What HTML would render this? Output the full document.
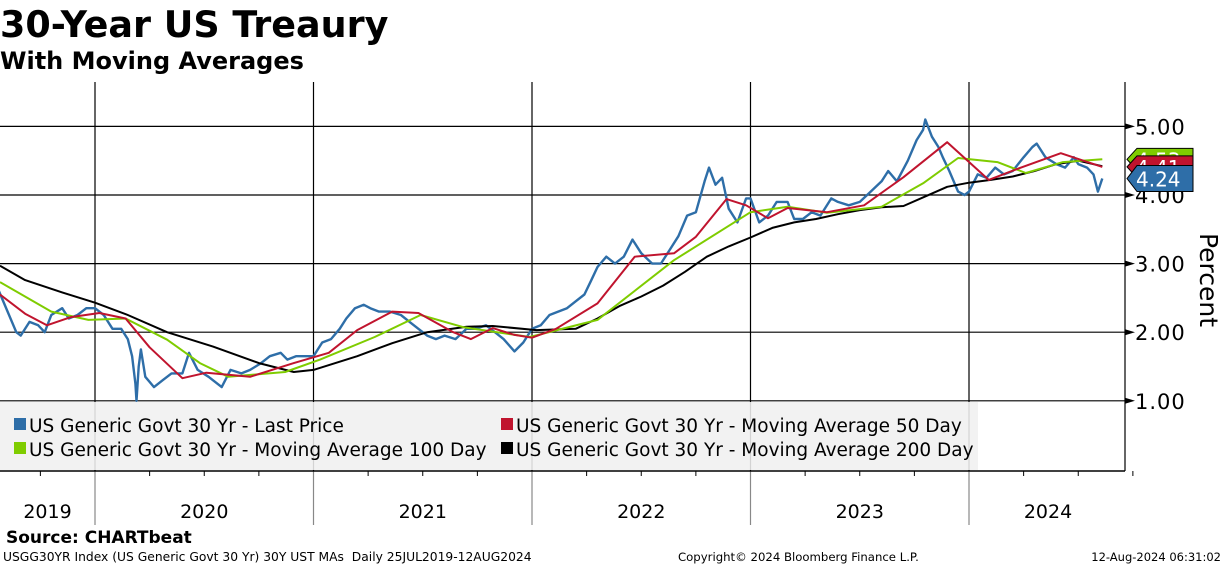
<!DOCTYPE html>
<html><head><meta charset="utf-8"><style>
body{margin:0;background:#fff;width:1224px;height:566px;overflow:hidden;font-family:"DejaVu Sans","Liberation Sans",sans-serif}
svg{position:absolute;left:0;top:0}
</style></head><body>
<svg id="c" width="1224" height="566">
<text x="0" y="37" font-size="36.5" font-weight="bold" font-family="DejaVu Sans, sans-serif">30-Year US Treaury</text>
<text x="0" y="69" font-size="24" font-weight="bold" font-family="DejaVu Sans, sans-serif">With Moving Averages</text>
<g id="grid"></g>
<g id="series"></g>
<g id="legend"></g>
<g id="axes"></g>
<text x="6" y="543" font-size="17" font-weight="bold">Source: CHARTbeat</text>
<text x="3" y="561" font-size="12.3" xml:space="preserve">USGG30YR Index (US Generic Govt 30 Yr) 30Y UST MAs  Daily 25JUL2019-12AUG2024</text>
<text x="678" y="561" font-size="11.7">Copyright© 2024 Bloomberg Finance L.P.</text>
<text x="1221" y="561" font-size="11.5" text-anchor="end">12-Aug-2024 06:31:02</text>
</svg>
<script>
const yTicks=[1,2,3,4,5];
const yearLabels=["2019","2020","2021","2022","2023","2024"];
const priceT=[2019.56,2019.60,2019.64,2019.66,2019.70,2019.74,2019.77,2019.80,2019.85,2019.88,2019.92,2019.96,2020.0,2020.04,2020.08,2020.12,2020.15,2020.17,2020.185,2020.19,2020.20,2020.21,2020.23,2020.27,2020.31,2020.35,2020.40,2020.43,2020.47,2020.52,2020.58,2020.62,2020.67,2020.71,2020.76,2020.80,2020.85,2020.88,2020.92,2020.96,2021.0,2021.04,2021.08,2021.12,2021.15,2021.19,2021.23,2021.26,2021.3,2021.35,2021.4,2021.44,2021.48,2021.52,2021.56,2021.60,2021.65,2021.70,2021.74,2021.79,2021.83,2021.87,2021.92,2021.96,2022.0,2022.04,2022.08,2022.12,2022.16,2022.2,2022.24,2022.27,2022.3,2022.34,2022.38,2022.42,2022.46,2022.5,2022.55,2022.59,2022.63,2022.67,2022.71,2022.75,2022.79,2022.81,2022.84,2022.87,2022.90,2022.94,2022.98,2023.0,2023.04,2023.08,2023.12,2023.17,2023.2,2023.24,2023.28,2023.32,2023.37,2023.4,2023.45,2023.5,2023.55,2023.6,2023.63,2023.67,2023.72,2023.76,2023.79,2023.8,2023.83,2023.86,2023.88,2023.91,2023.95,2023.98,2024.0,2024.04,2024.08,2024.12,2024.16,2024.2,2024.25,2024.29,2024.31,2024.35,2024.4,2024.44,2024.48,2024.5,2024.54,2024.57,2024.59,2024.61];
const priceV=[2.60,2.30,2.00,1.95,2.15,2.10,2.00,2.25,2.35,2.20,2.25,2.35,2.35,2.25,2.05,2.05,1.90,1.65,1.25,1.00,1.50,1.75,1.35,1.20,1.30,1.40,1.40,1.70,1.45,1.35,1.20,1.45,1.40,1.45,1.55,1.65,1.70,1.60,1.65,1.65,1.65,1.85,1.90,2.05,2.20,2.35,2.40,2.35,2.30,2.30,2.25,2.15,2.05,1.95,1.90,1.95,1.90,2.05,2.05,2.10,2.00,1.90,1.72,1.85,2.05,2.10,2.25,2.30,2.35,2.45,2.55,2.75,2.95,3.10,3.00,3.10,3.35,3.15,3.00,3.00,3.20,3.40,3.70,3.75,4.20,4.40,4.15,4.25,3.80,3.60,3.95,3.95,3.60,3.70,3.90,3.90,3.65,3.65,3.75,3.70,3.95,3.90,3.85,3.90,4.05,4.20,4.35,4.20,4.50,4.80,4.95,5.10,4.85,4.70,4.55,4.35,4.05,4.00,4.05,4.30,4.25,4.40,4.30,4.35,4.55,4.70,4.75,4.55,4.45,4.40,4.55,4.45,4.40,4.30,4.05,4.24];
const ma50T=[2019.565,2019.68,2019.78,2019.89,2020.02,2020.14,2020.25,2020.4,2020.51,2020.71,2020.91,2021.07,2021.2,2021.36,2021.48,2021.64,2021.72,2021.82,2021.92,2022.0,2022.11,2022.3,2022.47,2022.65,2022.75,2022.89,2022.98,2023.08,2023.17,2023.35,2023.52,2023.7,2023.9,2023.99,2024.09,2024.23,2024.42,2024.61];
const ma50V=[2.55,2.27,2.10,2.22,2.28,2.20,1.78,1.33,1.41,1.35,1.55,1.70,2.03,2.30,2.28,2.00,1.90,2.06,1.96,1.92,2.05,2.42,3.10,3.15,3.39,3.94,3.85,3.66,3.81,3.75,3.85,4.26,4.77,4.51,4.22,4.39,4.61,4.41];
const ma100T=[2019.565,2019.8,2019.97,2020.14,2020.33,2020.48,2020.61,2020.87,2021.03,2021.28,2021.49,2021.69,2021.99,2022.3,2022.65,2023.0,2023.17,2023.35,2023.6,2023.79,2023.95,2024.13,2024.26,2024.43,2024.61];
const ma100V=[2.73,2.30,2.18,2.20,1.89,1.55,1.35,1.42,1.60,1.93,2.25,2.07,1.93,2.18,3.05,3.75,3.83,3.74,3.83,4.17,4.54,4.48,4.32,4.48,4.52];
const ma200T=[2019.565,2019.68,2019.85,2020.0,2020.15,2020.33,2020.54,2020.75,2020.91,2021.0,2021.2,2021.36,2021.52,2021.7,2021.82,2022.02,2022.2,2022.3,2022.4,2022.5,2022.6,2022.7,2022.8,2022.9,2023.0,2023.1,2023.2,2023.3,2023.4,2023.5,2023.6,2023.7,2023.8,2023.9,2024.0,2024.1,2024.2,2024.3,2024.4,2024.5,2024.61];
const ma200V=[2.97,2.76,2.58,2.43,2.25,2.00,1.79,1.55,1.42,1.45,1.65,1.84,2.00,2.08,2.09,2.03,2.05,2.20,2.38,2.52,2.68,2.88,3.10,3.25,3.38,3.52,3.60,3.65,3.72,3.78,3.82,3.84,3.98,4.12,4.18,4.22,4.27,4.35,4.45,4.50,4.42];
const legendNames=["US Generic Govt 30 Yr - Last Price","US Generic Govt 30 Yr - Moving Average 50 Day","US Generic Govt 30 Yr - Moving Average 100 Day","US Generic Govt 30 Yr - Moving Average 200 Day"];
const lastVals=["4.53","4.41","4.24"];

const NS="http://www.w3.org/2000/svg";
const PL=0,PR=1125,PT=82,PB=471;
function X(t){return 95+(t-2020)*218.5;}
function Y(v){return 195-(v-4)*68.6;}
function mk(tag,attrs,parent){const e=document.createElementNS(NS,tag);for(const k in attrs)e.setAttribute(k,attrs[k]);parent.appendChild(e);return e;}
const grid=document.getElementById('grid'),ser=document.getElementById('series'),leg=document.getElementById('legend'),ax=document.getElementById('axes');
yTicks.forEach(v=>{
  const l=mk('line',{x1:PL,x2:PR,y1:Y(v),y2:Y(v),stroke:'#000','stroke-width':1.2},grid);
  
  
  const tk=mk('path',{d:`M${PR} ${Y(v)-3}L${PR+10} ${Y(v)}L${PR} ${Y(v)+3}Z`,fill:'#000'},ax);
  
  
  const t=mk('text',{x:1135,y:Y(v)+8,'font-size':21,'letter-spacing':1},ax);t.textContent=v.toFixed(2);
  
  
});
for(let yr=2020;yr<=2024;yr++){
  const l=mk('line',{x1:X(yr),x2:X(yr),y1:PT,y2:PB,stroke:'#000','stroke-width':1.2},grid);
  
  
  const l2=mk('line',{x1:X(yr),x2:X(yr),y1:PB,y2:525,stroke:'#888','stroke-width':1.2},ax);
  
  
}
for(let q=2019.75;q<2024.8;q+=0.25){
  if(Math.abs(q-Math.round(q))<0.01)continue;
  const l=mk('line',{x1:X(q),x2:X(q),y1:PB,y2:PB+5,stroke:'#000'},ax);
  
  
}
yearLabels.forEach((yl,i)=>{
  const yr=2019+i;let a=Math.max(X(yr),0),b=Math.min(X(yr+1),PR);
  const t=mk('text',{x:yr===2024?1048:(a+b)/2,y:518,'font-size':19,'text-anchor':'middle'},ax);t.textContent=yl;
  
  
});
function line(T,V,color,w,name){
  const d=T.map((t,i)=>(i?'L':'M')+X(t).toFixed(1)+' '+Y(V[i]).toFixed(1)).join('');
  const p=mk('path',{d:d,fill:'none',stroke:color,'stroke-width':w,'stroke-linejoin':'round'},ser);
  
  
}
line(priceT,priceV,'#2e6ea8',2.4,'last-price-line');
line(ma200T,ma200V,'#000',2,'ma200-line');
line(ma100T,ma100V,'#7fcc00',2,'ma100-line');
line(ma50T,ma50V,'#c0142e',2,'ma50-line');
const axl=mk('line',{x1:PR,x2:PR,y1:PT,y2:PB,stroke:'#000','stroke-width':1.2},ax);


const xal=mk('line',{x1:0,x2:PR,y1:PB,y2:PB,stroke:'#000','stroke-width':1.5},ax);


const yt=mk('text',{x:0,y:0,'font-size':25,transform:'translate(1200,280) rotate(90)','text-anchor':'middle'},ax);yt.textContent='Percent';


const lb=mk('rect',{x:0,y:402,width:978,height:68,fill:'rgba(240,240,240,0.88)'},leg);


const lcol=['#2e6ea8','#c0142e','#7fcc00','#000'];
const lpos=[[14,432],[501,432],[14,456],[501,456]];
legendNames.forEach((n,i)=>{
  const g=mk('g',{},leg);
  
  
  mk('rect',{x:lpos[i][0],y:lpos[i][1]-14,width:12,height:12,fill:lcol[i]},g);
  const t=mk('text',{x:lpos[i][0]+15,y:lpos[i][1],'font-size':18.5},g);t.textContent=n;
});
const tagCol=['#7fcc00','#c0142e','#2e6ea8'];
const tagY=[Y(4.52),Y(4.41),Y(4.24)];
tagCol.forEach((c,i)=>{
  const y=tagY[i],h=i===2?26:22;
  const g=mk('g',{},ax);
  
  
  mk('path',{d:`M1127 ${y}L1137 ${y-h/2}L1193 ${y-h/2}L1193 ${y+h/2}L1137 ${y+h/2}Z`,fill:c,stroke:'#000','stroke-width':1},g);
  const t=mk('text',{x:1136,y:y+8,'font-size':20,fill:'#fff'},g);t.textContent=lastVals[i];
});
</script>
</body></html>
